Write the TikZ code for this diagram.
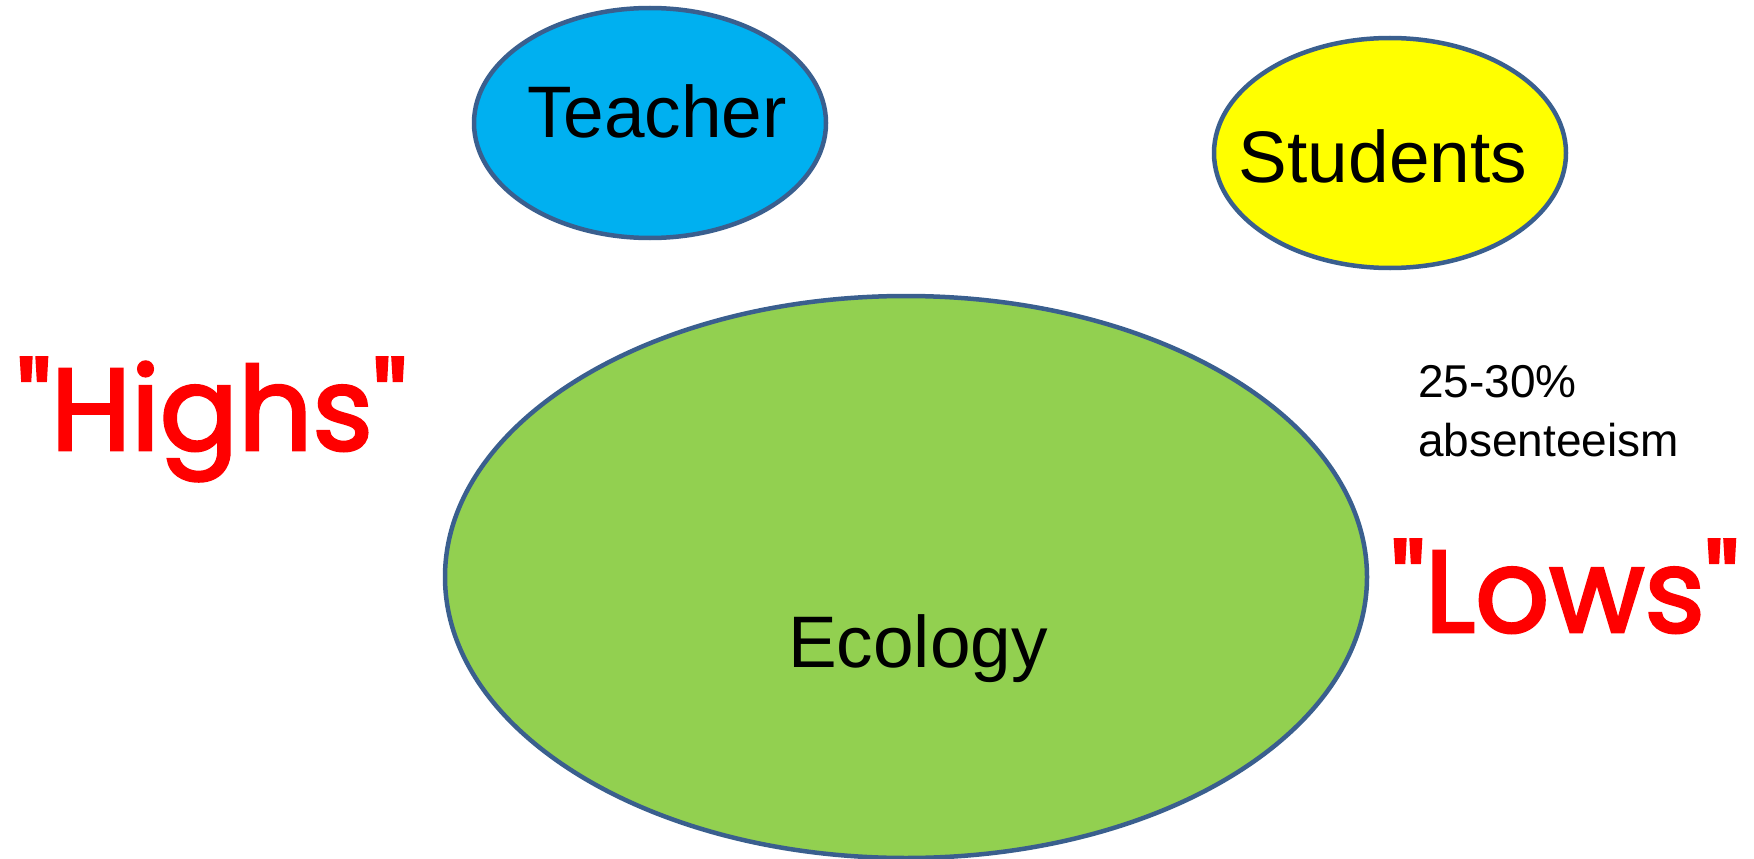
\documentclass[tikz,border=0pt]{standalone}
\usepackage{fontspec}
\setmainfont{Liberation Sans}
\newfontfamily\handfont[FakeBold=2.5]{Poppins}
\usetikzlibrary{shapes.geometric}
\definecolor{rimblue}{HTML}{3A5F8E}
\definecolor{teachercyan}{HTML}{00B0F0}
\definecolor{studentyellow}{HTML}{FFFF00}
\definecolor{ecogreen}{HTML}{92D050}
\definecolor{hotred}{HTML}{FF0000}
\tikzset{
  blob/.style={ellipse, draw=rimblue, line width=4.5pt, inner sep=0pt},
  bigword/.style={font=\fontsize{73}{80}\selectfont, anchor=base, inner sep=0pt},
  shout/.style={font=\handfont\fontsize{116}{130}\selectfont, text=hotred, anchor=base, inner sep=0pt},
  note/.style={font=\fontsize{46}{50}\selectfont, anchor=base west, inner sep=0pt},
}
\begin{document}
\begin{tikzpicture}[x=1pt,y=-1pt]
  \useasboundingbox (0,0) rectangle (1754,859);
  % the three circles of influence
  \node[blob, fill=teachercyan, minimum width=352pt, minimum height=230pt] (teacher) at (650,123) {};
  \node[blob, fill=studentyellow, minimum width=352pt, minimum height=230pt] (students) at (1390,153) {};
  \node[blob, fill=ecogreen, minimum width=922pt, minimum height=562pt] (ecology) at (906,577) {};
  % labels
  \node[bigword] (teacherlbl) at (657,137) {Teacher};
  \node[bigword] (studentslbl) at (1383,182) {Students};
  \node[bigword] (ecologylbl) at (918,667) {Ecology};
  % highs and lows
  \node[shout] (highs) at (212,450) {"Highs"};
  \node[shout] (lows) at (1565,632) {"Lows"};
  % absenteeism note
  \node[note] (pct) at (1418,397) {25-30\%};
  \node[note] (absent) at (1418,456) {absenteeism};
\end{tikzpicture}
\end{document}
